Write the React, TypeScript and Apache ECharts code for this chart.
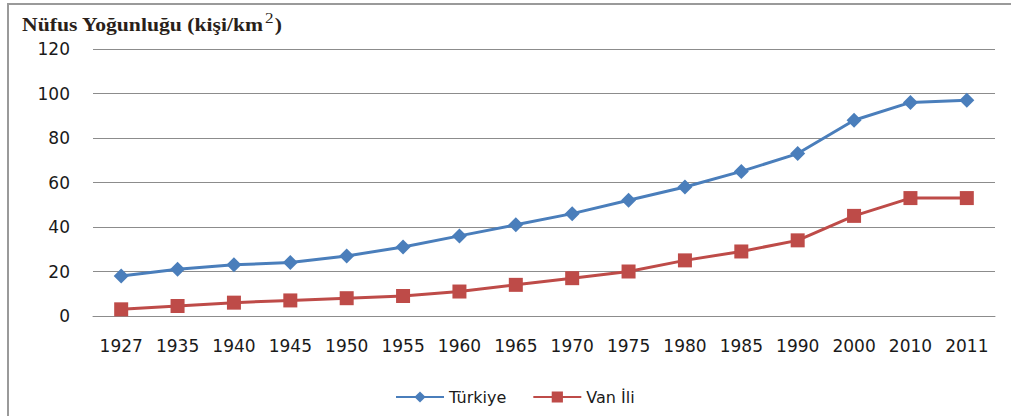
import React, { useEffect, useRef } from "react";
import * as echarts from "echarts";

const years = ["1927", "1935", "1940", "1945", "1950", "1955", "1960", "1965", "1970", "1975", "1980", "1985", "1990", "2000", "2010", "2011"];
const turkiye = [18, 21, 23, 24, 27, 31, 36, 41, 46, 52, 58, 65, 73, 88, 96, 97];
const van = [3, 4.5, 6, 7, 8, 9, 11, 14, 17, 20, 25, 29, 34, 45, 53, 53];
const seriesNames = ["Türkiye", "Van İli"];

export default function App() {
  const ref = useRef<HTMLDivElement>(null);
  useEffect(() => {
    const chart = echarts.init(ref.current!, null, { renderer: "svg" });
    chart.setOption({
      animation: false,
      backgroundColor: "#ffffff",
      textStyle: { fontFamily: "DejaVu Sans" },
      graphic: [
        {
          type: "rect",
          shape: { x: 8, y: 4, width: 1100, height: 500 },
          style: { fill: "none", stroke: "#9a9a9a", lineWidth: 2 },
          silent: true,
        },
        {
          type: "text",
          x: 22,
          y: 10,
          scaleX: 1.14,
          style: {
            text: "{a|Nüfus Yoğunluğu (kişi/km}{b|2}{a|)}",
            rich: {
              a: { fontFamily: "Liberation Serif", fontSize: 19, fontWeight: "bold", fill: "#2a1f1a", verticalAlign: "bottom", lineHeight: 24 },
              b: { fontFamily: "Liberation Serif", fontSize: 15, fill: "#2a1f1a", verticalAlign: "top", lineHeight: 24, padding: [0, 1, 10, 1] },
            },
          },
        },
      ],
      grid: { left: 93, right: 16, top: 49, bottom: 100 },
      legend: {
        top: 384,
        left: 390,
        itemWidth: 48,
        itemHeight: 14,
        itemGap: 26,
        textStyle: { fontFamily: "DejaVu Sans", fontSize: 16, color: "#1a1a1a" },
        data: seriesNames,
      },
      xAxis: {
        type: "category",
        data: years,
        boundaryGap: true,
        axisLine: { show: true, lineStyle: { color: "#8c8c8c", width: 1 } },
        axisTick: { show: false },
        axisLabel: { fontFamily: "DejaVu Sans", fontSize: 17, color: "#1a1a1a", margin: 21 },
      },
      yAxis: {
        type: "value",
        min: 0,
        max: 120,
        interval: 20,
        axisLine: { show: false },
        axisTick: { show: false },
        axisLabel: { fontFamily: "DejaVu Sans", fontSize: 17, color: "#1a1a1a", margin: 23 },
        splitLine: { lineStyle: { color: "#8c8c8c", width: 1 } },
      },
      series: [
        {
          name: seriesNames[0],
          type: "line",
          data: turkiye,
          symbol: "diamond",
          symbolSize: 15,
          lineStyle: { color: "#4a7ebb", width: 3 },
          itemStyle: { color: "#4a7ebb" },
        },
        {
          name: seriesNames[1],
          type: "line",
          data: van,
          symbol: "rect",
          symbolSize: 14,
          lineStyle: { color: "#be4b48", width: 3 },
          itemStyle: { color: "#be4b48" },
        },
      ],
    });
    return () => chart.dispose();
  }, []);
  return <div ref={ref} style={{ position: "fixed", left: 0, top: 0, width: 1011, height: 416 }} />;
}
